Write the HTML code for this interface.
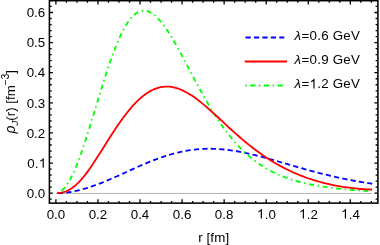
<!DOCTYPE html>
<html><head><meta charset="utf-8"><title>plot</title>
<style>html,body{margin:0;padding:0;background:#fff;overflow:hidden}svg{display:block;will-change:transform}text{font-family:"Liberation Sans",sans-serif}</style>
</head><body>
<svg width="380" height="245" viewBox="0 0 380 245">
<rect width="380" height="245" fill="#fff"/>
<rect x="49.4" y="0.68" width="328.5" height="202.44" fill="none" stroke="#000" stroke-width="1.55"/>
<line x1="56" y1="193.45" x2="372.2" y2="193.45" stroke="#a0a0a0" stroke-width="0.8"/>
<path d="M55.90 203.12 v-3.9 M55.90 0.68 v3.9 M66.41 203.12 v-2.15 M66.41 0.68 v2.15 M76.93 203.12 v-2.15 M76.93 0.68 v2.15 M87.45 203.12 v-2.15 M87.45 0.68 v2.15 M97.96 203.12 v-3.9 M97.96 0.68 v3.9 M108.47 203.12 v-2.15 M108.47 0.68 v2.15 M118.99 203.12 v-2.15 M118.99 0.68 v2.15 M129.50 203.12 v-2.15 M129.50 0.68 v2.15 M140.02 203.12 v-3.9 M140.02 0.68 v3.9 M150.53 203.12 v-2.15 M150.53 0.68 v2.15 M161.05 203.12 v-2.15 M161.05 0.68 v2.15 M171.57 203.12 v-2.15 M171.57 0.68 v2.15 M182.08 203.12 v-3.9 M182.08 0.68 v3.9 M192.60 203.12 v-2.15 M192.60 0.68 v2.15 M203.11 203.12 v-2.15 M203.11 0.68 v2.15 M213.63 203.12 v-2.15 M213.63 0.68 v2.15 M224.14 203.12 v-3.9 M224.14 0.68 v3.9 M234.66 203.12 v-2.15 M234.66 0.68 v2.15 M245.17 203.12 v-2.15 M245.17 0.68 v2.15 M255.69 203.12 v-2.15 M255.69 0.68 v2.15 M266.20 203.12 v-3.9 M266.20 0.68 v3.9 M276.72 203.12 v-2.15 M276.72 0.68 v2.15 M287.23 203.12 v-2.15 M287.23 0.68 v2.15 M297.75 203.12 v-2.15 M297.75 0.68 v2.15 M308.26 203.12 v-3.9 M308.26 0.68 v3.9 M318.77 203.12 v-2.15 M318.77 0.68 v2.15 M329.29 203.12 v-2.15 M329.29 0.68 v2.15 M339.81 203.12 v-2.15 M339.81 0.68 v2.15 M350.32 203.12 v-3.9 M350.32 0.68 v3.9 M360.84 203.12 v-2.15 M360.84 0.68 v2.15 M371.35 203.12 v-2.15 M371.35 0.68 v2.15 M49.4 199.22 h2.3 M377.9 199.22 h-2.3 M49.4 193.20 h3.5 M377.9 193.20 h-3.5 M49.4 187.18 h2.3 M377.9 187.18 h-2.3 M49.4 181.15 h2.3 M377.9 181.15 h-2.3 M49.4 175.13 h2.3 M377.9 175.13 h-2.3 M49.4 169.10 h2.3 M377.9 169.10 h-2.3 M49.4 163.08 h3.5 M377.9 163.08 h-3.5 M49.4 157.06 h2.3 M377.9 157.06 h-2.3 M49.4 151.03 h2.3 M377.9 151.03 h-2.3 M49.4 145.01 h2.3 M377.9 145.01 h-2.3 M49.4 138.98 h2.3 M377.9 138.98 h-2.3 M49.4 132.96 h3.5 M377.9 132.96 h-3.5 M49.4 126.94 h2.3 M377.9 126.94 h-2.3 M49.4 120.91 h2.3 M377.9 120.91 h-2.3 M49.4 114.89 h2.3 M377.9 114.89 h-2.3 M49.4 108.86 h2.3 M377.9 108.86 h-2.3 M49.4 102.84 h3.5 M377.9 102.84 h-3.5 M49.4 96.82 h2.3 M377.9 96.82 h-2.3 M49.4 90.79 h2.3 M377.9 90.79 h-2.3 M49.4 84.77 h2.3 M377.9 84.77 h-2.3 M49.4 78.74 h2.3 M377.9 78.74 h-2.3 M49.4 72.72 h3.5 M377.9 72.72 h-3.5 M49.4 66.70 h2.3 M377.9 66.70 h-2.3 M49.4 60.67 h2.3 M377.9 60.67 h-2.3 M49.4 54.65 h2.3 M377.9 54.65 h-2.3 M49.4 48.62 h2.3 M377.9 48.62 h-2.3 M49.4 42.60 h3.5 M377.9 42.60 h-3.5 M49.4 36.58 h2.3 M377.9 36.58 h-2.3 M49.4 30.55 h2.3 M377.9 30.55 h-2.3 M49.4 24.53 h2.3 M377.9 24.53 h-2.3 M49.4 18.50 h2.3 M377.9 18.50 h-2.3 M49.4 12.48 h3.5 M377.9 12.48 h-3.5 M49.4 6.46 h2.3 M377.9 6.46 h-2.3" stroke="#000" stroke-width="1.3" fill="none"/>
<path d="M57.27 193.19 L59.38 193.13 L61.49 193.01 L63.61 192.85 L65.72 192.63 L67.83 192.37 L69.95 192.05 L72.06 191.70 L74.18 191.30 L76.29 190.85 L78.40 190.37 L80.52 189.85 L82.63 189.29 L84.74 188.69 L86.86 188.06 L88.97 187.39 L91.08 186.69 L93.20 185.97 L95.31 185.21 L97.43 184.43 L99.54 183.63 L101.65 182.80 L103.77 181.95 L105.88 181.08 L107.99 180.20 L110.11 179.29 L112.22 178.38 L114.33 177.45 L116.45 176.51 L118.56 175.57 L120.67 174.62 L122.79 173.66 L124.90 172.70 L127.02 171.74 L129.13 170.78 L131.24 169.82 L133.36 168.86 L135.47 167.92 L137.58 166.98 L139.70 166.05 L141.81 165.13 L143.92 164.22 L146.04 163.33 L148.15 162.45 L150.26 161.59 L152.38 160.75 L154.49 159.93 L156.61 159.13 L158.72 158.36 L160.83 157.60 L162.95 156.88 L165.06 156.18 L167.17 155.50 L169.29 154.86 L171.40 154.24 L173.51 153.66 L175.63 153.10 L177.74 152.58 L179.85 152.09 L181.97 151.63 L184.08 151.20 L186.20 150.81 L188.31 150.45 L190.42 150.13 L192.54 149.84 L194.65 149.58 L196.76 149.36 L198.88 149.18 L200.99 149.02 L203.10 148.91 L205.22 148.82 L207.33 148.77 L209.45 148.75 L211.56 148.77 L213.67 148.81 L215.79 148.89 L217.90 149.00 L220.01 149.14 L222.13 149.31 L224.24 149.51 L226.35 149.73 L228.47 149.99 L230.58 150.27 L232.69 150.57 L234.81 150.90 L236.92 151.26 L239.04 151.63 L241.15 152.03 L243.26 152.45 L245.38 152.89 L247.49 153.35 L249.60 153.82 L251.72 154.31 L253.83 154.82 L255.94 155.34 L258.06 155.88 L260.17 156.42 L262.28 156.98 L264.40 157.55 L266.51 158.13 L268.63 158.72 L270.74 159.31 L272.85 159.91 L274.97 160.52 L277.08 161.13 L279.19 161.74 L281.31 162.36 L283.42 162.97 L285.53 163.59 L287.65 164.21 L289.76 164.83 L291.87 165.45 L293.99 166.06 L296.10 166.68 L298.22 167.29 L300.33 167.89 L302.44 168.49 L304.56 169.09 L306.67 169.68 L308.78 170.27 L310.90 170.85 L313.01 171.42 L315.12 171.98 L317.24 172.54 L319.35 173.09 L321.47 173.63 L323.58 174.16 L325.69 174.68 L327.81 175.20 L329.92 175.70 L332.03 176.20 L334.15 176.68 L336.26 177.16 L338.37 177.63 L340.49 178.08 L342.60 178.53 L344.71 178.97 L346.83 179.40 L348.94 179.81 L351.06 180.22 L353.17 180.62 L355.28 181.00 L357.40 181.38 L359.51 181.75 L361.62 182.11 L363.74 182.45 L365.85 182.79 L367.96 183.12 L370.08 183.44 L372.19 183.75" fill="none" stroke="#0000ff" stroke-width="1.8" stroke-dasharray="5.2 3.25" stroke-dashoffset="7.85" stroke-linejoin="round"/>
<path d="M57.27 193.06 L59.38 192.32 L61.49 190.95 L63.61 188.98 L65.72 186.43 L67.83 183.34 L69.95 179.72 L72.06 175.62 L74.18 171.07 L76.29 166.09 L78.40 160.72 L80.52 155.01 L82.63 148.99 L84.74 142.70 L86.86 136.18 L88.97 129.49 L91.08 122.65 L93.20 115.71 L95.31 108.72 L97.43 101.73 L99.54 94.76 L101.65 87.87 L103.77 81.09 L105.88 74.47 L107.99 68.04 L110.11 61.83 L112.22 55.88 L114.33 50.22 L116.45 44.87 L118.56 39.86 L120.67 35.21 L122.79 30.93 L124.90 27.05 L127.02 23.56 L129.13 20.49 L131.24 17.84 L133.36 15.61 L135.47 13.80 L137.58 12.41 L139.70 11.42 L141.81 10.85 L143.92 10.66 L146.04 10.86 L148.15 11.43 L150.26 12.35 L152.38 13.60 L154.49 15.18 L156.61 17.06 L158.72 19.21 L160.83 21.63 L162.95 24.28 L165.06 27.16 L167.17 30.23 L169.29 33.49 L171.40 36.89 L173.51 40.44 L175.63 44.11 L177.74 47.87 L179.85 51.72 L181.97 55.63 L184.08 59.59 L186.20 63.58 L188.31 67.59 L190.42 71.61 L192.54 75.61 L194.65 79.60 L196.76 83.55 L198.88 87.46 L200.99 91.32 L203.10 95.12 L205.22 98.86 L207.33 102.52 L209.45 106.10 L211.56 109.61 L213.67 113.02 L215.79 116.35 L217.90 119.58 L220.01 122.72 L222.13 125.76 L224.24 128.71 L226.35 131.55 L228.47 134.30 L230.58 136.95 L232.69 139.51 L234.81 141.97 L236.92 144.33 L239.04 146.60 L241.15 148.78 L243.26 150.87 L245.38 152.87 L247.49 154.78 L249.60 156.62 L251.72 158.37 L253.83 160.04 L255.94 161.64 L258.06 163.17 L260.17 164.62 L262.28 166.01 L264.40 167.33 L266.51 168.59 L268.63 169.79 L270.74 170.93 L272.85 172.01 L274.97 173.05 L277.08 174.03 L279.19 174.96 L281.31 175.85 L283.42 176.69 L285.53 177.49 L287.65 178.25 L289.76 178.98 L291.87 179.66 L293.99 180.32 L296.10 180.94 L298.22 181.53 L300.33 182.09 L302.44 182.62 L304.56 183.13 L306.67 183.61 L308.78 184.06 L310.90 184.50 L313.01 184.91 L315.12 185.31 L317.24 185.68 L319.35 186.04 L321.47 186.38 L323.58 186.71 L325.69 187.02 L327.81 187.31 L329.92 187.59 L332.03 187.86 L334.15 188.12 L336.26 188.37 L338.37 188.60 L340.49 188.83 L342.60 189.04 L344.71 189.25 L346.83 189.45 L348.94 189.64 L351.06 189.82 L353.17 190.00 L355.28 190.17 L357.40 190.33 L359.51 190.49 L361.62 190.64 L363.74 190.79 L365.85 190.93 L367.96 191.06 L370.08 191.19 L372.19 191.31" fill="none" stroke="#00ff00" stroke-width="1.8" stroke-dasharray="1.5 3.6 5 3.6" stroke-dashoffset="0.2" stroke-linejoin="round"/>
<path d="M57.27 193.17 L59.38 193.02 L61.49 192.70 L63.61 192.20 L65.72 191.49 L67.83 190.57 L69.95 189.43 L72.06 188.06 L74.18 186.46 L76.29 184.64 L78.40 182.61 L80.52 180.38 L82.63 177.95 L84.74 175.35 L86.86 172.60 L88.97 169.70 L91.08 166.69 L93.20 163.57 L95.31 160.36 L97.43 157.10 L99.54 153.78 L101.65 150.43 L103.77 147.06 L105.88 143.70 L107.99 140.35 L110.11 137.02 L112.22 133.73 L114.33 130.50 L116.45 127.33 L118.56 124.22 L120.67 121.20 L122.79 118.27 L124.90 115.44 L127.02 112.71 L129.13 110.09 L131.24 107.59 L133.36 105.21 L135.47 102.96 L137.58 100.85 L139.70 98.87 L141.81 97.03 L143.92 95.33 L146.04 93.78 L148.15 92.38 L150.26 91.13 L152.38 90.04 L154.49 89.09 L156.61 88.30 L158.72 87.66 L160.83 87.17 L162.95 86.83 L165.06 86.64 L167.17 86.60 L169.29 86.70 L171.40 86.94 L173.51 87.32 L175.63 87.83 L177.74 88.47 L179.85 89.23 L181.97 90.11 L184.08 91.10 L186.20 92.20 L188.31 93.41 L190.42 94.70 L192.54 96.09 L194.65 97.56 L196.76 99.10 L198.88 100.71 L200.99 102.39 L203.10 104.12 L205.22 105.90 L207.33 107.72 L209.45 109.58 L211.56 111.47 L213.67 113.39 L215.79 115.32 L217.90 117.27 L220.01 119.23 L222.13 121.19 L224.24 123.16 L226.35 125.11 L228.47 127.06 L230.58 128.99 L232.69 130.91 L234.81 132.81 L236.92 134.69 L239.04 136.54 L241.15 138.37 L243.26 140.17 L245.38 141.94 L247.49 143.67 L249.60 145.37 L251.72 147.04 L253.83 148.67 L255.94 150.26 L258.06 151.82 L260.17 153.34 L262.28 154.83 L264.40 156.27 L266.51 157.68 L268.63 159.05 L270.74 160.39 L272.85 161.68 L274.97 162.94 L277.08 164.17 L279.19 165.35 L281.31 166.50 L283.42 167.62 L285.53 168.70 L287.65 169.75 L289.76 170.77 L291.87 171.75 L293.99 172.70 L296.10 173.61 L298.22 174.50 L300.33 175.36 L302.44 176.18 L304.56 176.98 L306.67 177.74 L308.78 178.48 L310.90 179.19 L313.01 179.87 L315.12 180.52 L317.24 181.15 L319.35 181.75 L321.47 182.33 L323.58 182.88 L325.69 183.40 L327.81 183.90 L329.92 184.38 L332.03 184.83 L334.15 185.26 L336.26 185.67 L338.37 186.06 L340.49 186.42 L342.60 186.77 L344.71 187.09 L346.83 187.39 L348.94 187.68 L351.06 187.94 L353.17 188.19 L355.28 188.41 L357.40 188.62 L359.51 188.82 L361.62 188.99 L363.74 189.15 L365.85 189.29 L367.96 189.42 L370.08 189.52 L372.19 189.62" fill="none" stroke="#ff0000" stroke-width="1.8" stroke-linejoin="round"/>
<line x1="245.5" y1="37.5" x2="284.3" y2="37.5" stroke="#0000ff" stroke-width="1.8" stroke-dasharray="5.2 3.25"/>
<line x1="244.7" y1="61.5" x2="287" y2="61.5" stroke="#ff0000" stroke-width="1.8"/>
<line x1="245.2" y1="85.5" x2="283.2" y2="85.5" stroke="#00ff00" stroke-width="1.8" stroke-dasharray="1.5 3.6 5 3.6"/>
<g font-family="Liberation Sans, sans-serif" font-size="13.33" fill="#000"><text x="55.90" y="218.5" text-anchor="middle">0.0</text><text x="97.96" y="218.5" text-anchor="middle">0.2</text><text x="140.02" y="218.5" text-anchor="middle">0.4</text><text x="182.08" y="218.5" text-anchor="middle">0.6</text><text x="224.14" y="218.5" text-anchor="middle">0.8</text><path transform="translate(256.936,218.500) scale(0.006509)" d="M763 0H583V-1147Q518 -1085 412.5 -1023Q307 -961 223 -930V-1104Q374 -1175 487 -1276Q600 -1377 647 -1472H763Z" fill="#000"/><text x="264.749" y="218.5">.0</text><path transform="translate(298.996,218.500) scale(0.006509)" d="M763 0H583V-1147Q518 -1085 412.5 -1023Q307 -961 223 -930V-1104Q374 -1175 487 -1276Q600 -1377 647 -1472H763Z" fill="#000"/><text x="306.809" y="218.5">.2</text><path transform="translate(341.056,218.500) scale(0.006509)" d="M763 0H583V-1147Q518 -1085 412.5 -1023Q307 -961 223 -930V-1104Q374 -1175 487 -1276Q600 -1377 647 -1472H763Z" fill="#000"/><text x="348.869" y="218.5">.4</text><text x="45.2" y="197.90" text-anchor="end">0.0</text><text x="38.386" y="167.78" text-anchor="end">0.</text><path transform="translate(38.836,167.780) scale(0.006509)" d="M763 0H583V-1147Q518 -1085 412.5 -1023Q307 -961 223 -930V-1104Q374 -1175 487 -1276Q600 -1377 647 -1472H763Z" fill="#000"/><text x="45.2" y="137.66" text-anchor="end">0.2</text><text x="45.2" y="107.54" text-anchor="end">0.3</text><text x="45.2" y="77.42" text-anchor="end">0.4</text><text x="45.2" y="47.30" text-anchor="end">0.5</text><text x="45.2" y="17.18" text-anchor="end">0.6</text><text x="294.4" y="40.4" letter-spacing="0.22"><tspan font-style="italic">λ</tspan><tspan dx="0.4">=0.6 GeV</tspan></text><text x="294.4" y="64.4" letter-spacing="0.22"><tspan font-style="italic">λ</tspan><tspan dx="0.4">=0.9 GeV</tspan></text><text x="294.4" y="88.4" letter-spacing="0.22"><tspan font-style="italic">λ</tspan><tspan dx="0.4">=</tspan></text><path transform="translate(309.580,88.400) scale(0.006509)" d="M763 0H583V-1147Q518 -1085 412.5 -1023Q307 -961 223 -930V-1104Q374 -1175 487 -1276Q600 -1377 647 -1472H763Z" fill="#000"/><text x="317.22" y="88.4" letter-spacing="0.22">.2 GeV</text><text x="213.7" y="241.7" text-anchor="middle" letter-spacing="0.12">r [fm]</text><text transform="translate(14.8,101.8) rotate(-90)" text-anchor="middle"><tspan font-style="italic" font-size="13.8">ρ</tspan><tspan font-style="italic" font-size="9.8" dy="3.5">J</tspan><tspan dy="-3.5">(r) [fm</tspan><tspan font-size="10" dy="-5.7">−3</tspan><tspan dy="5.7">]</tspan></text></g>
</svg>
</body></html>
